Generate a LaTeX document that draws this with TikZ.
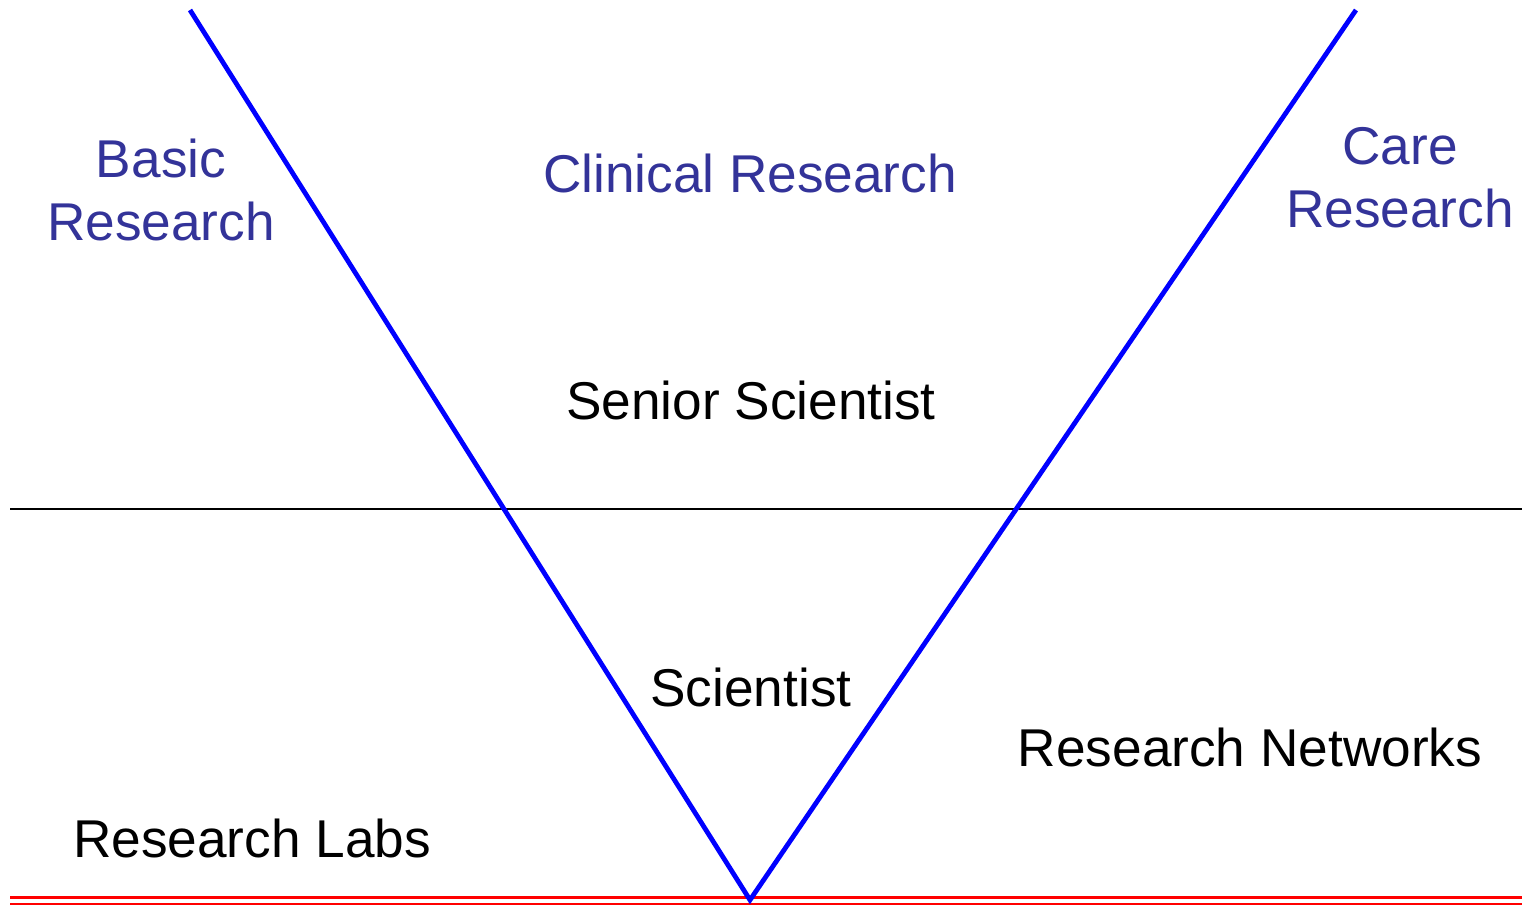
\documentclass[tikz,border=0pt]{standalone}
\usepackage{fontspec}
\setmainfont{Liberation Sans}
\definecolor{labelblue}{RGB}{51,51,153}

\begin{document}
\begin{tikzpicture}[x=0.5pt,y=-0.5pt,
    field/.style={text=labelblue,align=center,font=\fontsize{26.6}{31.5}\selectfont},
    stage/.style={text=black,font=\fontsize{26.6}{31.5}\selectfont}]
    \useasboundingbox (0,0) rectangle (1528,905);
    % corner points
    \coordinate (vl) at (190,10);
    \coordinate (vtip) at (750,900);
    \coordinate (vr) at (1356,10);
    \coordinate (ml) at (10,509);
    \coordinate (mr) at (1522,509);
    \coordinate (bl) at (10,897.5);
    \coordinate (br) at (1522,897.5);
    \coordinate (bl2) at (10,903.5);
    \coordinate (br2) at (1522,903.5);
    % lines
    \draw [line width=1pt] (ml) -- (mr);
    \draw [red,line width=1.1pt] (bl) -- (br);
    \draw [red,line width=1pt] (bl2) -- (br2);
    \draw [blue,line width=2.4pt] (vl) -- (vtip) -- (vr);
    % labels
    \node [field] (basic) at (161,190) {Basic\\Research};
    \node [field] (clinical) at (750,173) {Clinical Research};
    \node [field] (care) at (1400,178) {Care\\Research};
    \node [stage] (senior) at (751,400) {Senior Scientist};
    \node [stage] (scientist) at (751,687) {Scientist};
    \node [stage] (networks) at (1250,747) {Research Networks};
    \node [stage] (labs) at (252,838) {Research Labs};
\end{tikzpicture}
\end{document}
